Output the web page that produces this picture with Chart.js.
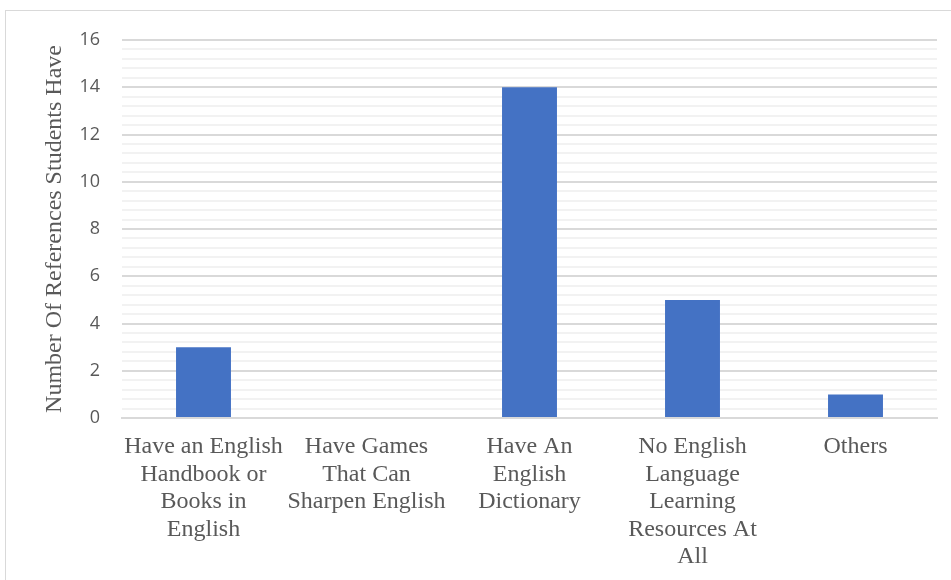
<!DOCTYPE html>
<html lang="en">
<head>
  <meta charset="UTF-8">
  <title>Number Of References Students Have</title>
  <script src="https://cdn.jsdelivr.net/npm/chart.js@4.4.1/dist/chart.umd.min.js"></script>
  <style>
    html, body { margin: 0; padding: 0; background: #fff; overflow: hidden; }
    #frame { position: absolute; left: 5px; top: 10px; width: 1000px; height: 700px; border: 1px solid #d9d9d9; }
    #wrap { position: absolute; left: 0; top: 0; width: 951px; height: 580px; }
  </style>
</head>
<body>
  <div id="frame"></div>
  <div id="wrap"><canvas id="refChart"></canvas></div>
  <script>
    const categories = [
      ['Have an English', 'Handbook or', 'Books in', 'English'],
      ['Have Games', 'That Can', 'Sharpen English'],
      ['Have An', 'English', 'Dictionary'],
      ['No English', 'Language', 'Learning', 'Resources At', 'All'],
      ['Others']
    ];
    const counts = [3, 0, 14, 5, 1];
    const yMax = 16;
    const majorStep = 2;
    const minorStep = 0.4;

    const isMajor = v => Math.abs(v / majorStep - Math.round(v / majorStep)) < 1e-6;

    const ctx = document.getElementById('refChart').getContext('2d');
    new Chart(ctx, {
      type: 'bar',
      data: {
        labels: categories,
        datasets: [{
          data: counts,
          backgroundColor: '#4472c4',
          barPercentage: 0.337,
          categoryPercentage: 1
        }]
      },
      options: {
        responsive: true,
        maintainAspectRatio: false,
        animation: false,
        layout: { padding: { left: 40, top: 40, right: 14, bottom: 0 } },
        plugins: {
          legend: { display: false },
          tooltip: { enabled: false }
        },
        scales: {
          x: {
            grid: { display: false, drawTicks: false },
            border: { color: '#d9d9d9', width: 2 },
            ticks: {
              color: '#595959',
              padding: 15,
              maxRotation: 0,
              autoSkip: false,
              font: { family: "'Liberation Serif', serif", size: 24, lineHeight: 1.15 }
            },
            afterFit: s => { s.height = 162; }
          },
          y: {
            min: 0,
            max: yMax,
            grid: {
              drawTicks: false,
              color: c => isMajor(c.tick.value) ? '#d9d9d9' : '#f2f2f2',
              lineWidth: 2
            },
            border: { display: false },
            ticks: {
              stepSize: minorStep,
              autoSkip: false,
              color: '#595959',
              padding: 22,
              font: { family: 'Open Sans', size: 18 },
              callback: v => isMajor(v) ? String(Math.round(v)) : ''
            },
            title: {
              display: true,
              text: 'Number Of References Students Have',
              color: '#595959',
              padding: 0,
              font: { family: "'Liberation Serif', serif", size: 24 }
            },
            afterFit: s => { s.width = 82; }
          }
        }
      }
    });
  </script>
</body>
</html>
